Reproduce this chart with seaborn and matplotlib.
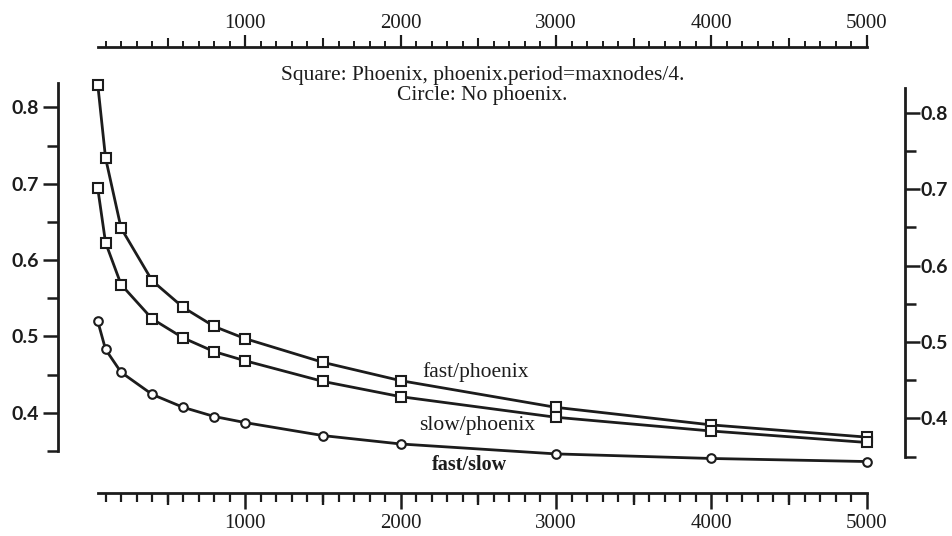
import numpy as np
import pandas as pd
import matplotlib
matplotlib.use("Agg")
import matplotlib.pyplot as plt
import seaborn as sns
from matplotlib.ticker import FixedLocator, NullFormatter

# ---- data ----
maxnodes = [50, 100, 200, 400, 600, 800, 1000, 1500, 2000, 3000, 4000, 5000]
fast_phoenix = [0.830, 0.734, 0.642, 0.573, 0.538, 0.513, 0.497, 0.466, 0.442, 0.407, 0.384, 0.368]
slow_phoenix = [0.694, 0.623, 0.568, 0.523, 0.498, 0.480, 0.468, 0.441, 0.421, 0.394, 0.376, 0.361]
fast_slow = [0.520, 0.483, 0.453, 0.424, 0.407, 0.395, 0.387, 0.370, 0.359, 0.346, 0.340, 0.336]
series_names = ["fast/phoenix", "slow/phoenix", "fast/slow"]
series_markers = ["s", "s", "o"]
x_major = [1000, 2000, 3000, 4000, 5000]
y_major = [0.4, 0.5, 0.6, 0.7, 0.8]
y_minor = [0.35, 0.45, 0.55, 0.65, 0.75]
note_lines = ["Square: Phoenix, phoenix.period=maxnodes/4.", "Circle: No phoenix."]

sns.set_style("white")
plt.rcParams["font.family"] = ["Liberation Serif", "DejaVu Serif"]

W, H = 952, 536
fig = plt.figure(figsize=(W / 100, H / 100), dpi=100)
fig.patch.set_facecolor("white")

# axes geometry in pixels
left_px, right_px, top_px, bot_px = 58, 905, 46.7, 492.7
ax = fig.add_axes([left_px / W, 1 - bot_px / H, (right_px - left_px) / W, (bot_px - top_px) / H])
ax.set_facecolor("white")

x0_px, kpx = 90.0, 0.15533  # pixel of x=0, pixels per unit
ax.set_xlim((left_px - x0_px) / kpx, (right_px - x0_px) / kpx)
# left y scale: 0.8 at 107.5 px, 763 px per unit
ax.set_ylim(0.8 - (bot_px - 107.5) / 763, 0.8 + (107.5 - top_px) / 763)

ink = "#1c1c1c"
lw = 2.0
series = [fast_phoenix, slow_phoenix, fast_slow]
for vals, mk in zip(series, series_markers):
    sns.lineplot(x=maxnodes, y=vals, ax=ax, color=ink, linewidth=lw, marker=mk,
                 markersize=6.8 if mk == "s" else 6.2, markerfacecolor="white",
                 markeredgecolor=ink, markeredgewidth=1.5, zorder=3)

# spines
ax.spines["right"].set_visible(False)
for s in ["left", "top", "bottom"]:
    ax.spines[s].set_visible(True)
    ax.spines[s].set_color(ink)
    ax.spines[s].set_linewidth(2.0)
ax.spines["left"].set_bounds(0.35, 0.832)
ax.spines["bottom"].set_bounds(50, 5000)
ax.spines["top"].set_bounds(50, 5000)

minor_x = list(range(100, 5001, 100))
half_x = [500, 1500, 2500, 3500, 4500]

# bottom axis
ax.xaxis.set_major_locator(FixedLocator(x_major))
ax.xaxis.set_minor_locator(FixedLocator(minor_x))
ax.xaxis.set_minor_formatter(NullFormatter())
ax.set_xticks(x_major, [str(v) for v in x_major])
ax.tick_params(axis="x", which="major", bottom=True, top=False, direction="out",
               length=11.5, width=1.8, color=ink, pad=4, labelsize=15, labelcolor=ink)
ax.tick_params(axis="x", which="minor", bottom=True, top=False, direction="out",
               length=6.5, width=1.6, color=ink)
ax.set_xlabel("")
ax.set_ylabel("")

# medium ticks at 500s (bottom)
axb = ax.secondary_xaxis("bottom")
axb.spines["bottom"].set_visible(False)
axb.set_xticks(half_x, ["" for _ in half_x])
axb.tick_params(axis="x", which="major", direction="out", length=8.5, width=1.7, color=ink)

# top axis
axt = ax.secondary_xaxis("top")
axt.spines["top"].set_visible(False)
axt.set_xticks(x_major, [str(v) for v in x_major])
axt.xaxis.set_minor_locator(FixedLocator(minor_x))
axt.tick_params(axis="x", which="major", direction="out", length=9, width=1.6,
                color=ink, pad=1, labelsize=15, labelcolor=ink)
axt.tick_params(axis="x", which="minor", direction="out", length=4, width=1.4, color=ink)
axt2 = ax.secondary_xaxis("top")
axt2.spines["top"].set_visible(False)
axt2.set_xticks(half_x, ["" for _ in half_x])
axt2.tick_params(axis="x", which="major", direction="out", length=6.5, width=1.5, color=ink)

# left y axis
ylab_font = dict(family=["Lato", "DejaVu Sans"], weight="bold", size=14)
ax.set_yticks(y_major, [f"{v:.1f}" for v in y_major])
ax.yaxis.set_minor_locator(FixedLocator(y_minor))
ax.tick_params(axis="y", which="major", left=True, right=False, direction="out",
               length=10.5, width=1.8, color=ink, pad=3, labelcolor=ink)
ax.tick_params(axis="y", which="minor", left=True, right=False, direction="out",
               length=8, width=1.8, color=ink)
for t in ax.get_yticklabels():
    t.set_fontproperties(matplotlib.font_manager.FontProperties(**ylab_font))

# right y axis (separate scale, slightly offset as in the original)
ax2 = ax.twinx()
ax2.set_ylim(0.8 - (bot_px - 112.7) / 764, 0.8 + (112.7 - top_px) / 764)
for s in ["left", "top", "bottom"]:
    ax2.spines[s].set_visible(False)
ax2.spines["right"].set_visible(True)
ax2.spines["right"].set_color(ink)
ax2.spines["right"].set_linewidth(2.0)
ax2.spines["right"].set_bounds(0.35, 0.832)
ax2.set_yticks(y_major, [f"{v:.1f}" for v in y_major])
ax2.yaxis.set_minor_locator(FixedLocator(y_minor))
ax2.tick_params(axis="y", which="major", right=True, left=False, direction="out",
                length=10.5, width=1.8, color=ink, pad=1, labelcolor=ink)
ax2.tick_params(axis="y", which="minor", right=True, left=False, direction="out",
                length=8, width=1.8, color=ink)
for t in ax2.get_yticklabels():
    t.set_fontproperties(matplotlib.font_manager.FontProperties(**ylab_font))
ax2.grid(False)
ax.grid(False)

# curve labels (data coordinates of main axes)
label_pos = [(2480, 0.4533), (2490, 0.3826), (2440, 0.3315)]
for name, (lx, ly) in zip(series_names, label_pos):
    bold = name == "fast/slow"
    ax.text(lx, ly, name, ha="center", va="center", fontsize=14.5 if bold else 15.5,
            color=ink, weight="bold" if bold else "normal")

# note text
fig.text(482.5 / W, 1 - 80 / H, note_lines[0], ha="center", va="baseline", fontsize=15.5, color=ink)
fig.text(482.5 / W, 1 - 100 / H, note_lines[1], ha="center", va="baseline", fontsize=15.5, color=ink)

fig.savefig("out.png", dpi=100, facecolor="white")
